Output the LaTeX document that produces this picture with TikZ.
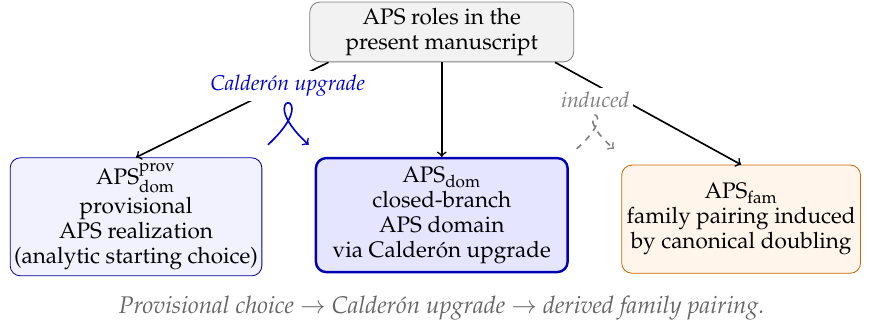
\documentclass[tikz,border=0pt]{standalone}
\usepackage[T1]{fontenc}
\usepackage{mathpazo}
\usetikzlibrary{arrows}

\begin{document}
\begin{tikzpicture}[
    box/.style={draw, rounded corners=5pt, align=center, inner xsep=1pt, inner ysep=3pt,
      font=\fontsize{11}{12.2}\selectfont},
    link/.style={->, thick, black},
    tag/.style={font=\fontsize{10.5}{12}\selectfont\itshape, fill=white, inner sep=2pt}
  ]
  \useasboundingbox (0,0) rectangle (14.95,-5.69);

  % the four boxes
  \node[box, draw=gray, fill=gray!10, minimum width=4.54cm, minimum height=1.03cm]
    (roles) at (7.60,-0.55) {APS roles in the\\present manuscript};
  \node[box, draw=blue!60!black, fill=blue!5, minimum width=4.33cm, minimum height=2.03cm]
    (prov) at (2.34,-3.73) {APS$^{\mathrm{prov}}_{\mathrm{dom}}$\\[2pt]provisional\\APS realization\\(analytic starting choice)};
  \node[box, very thick, draw=blue!70!black, fill=blue!10, minimum width=4.33cm, minimum height=1.96cm]
    (dom) at (7.60,-3.70) {APS$_{\mathrm{dom}}$\\closed-branch\\APS domain\\via Calder\'on upgrade};
  \node[box, draw=orange!80!black, fill=orange!8, minimum width=4.11cm, minimum height=1.86cm]
    (fam) at (12.75,-3.77) {APS$_{\mathrm{fam}}$\\family pairing induced\\by canonical doubling};

  % arrows out of the top box
  \draw[link] (roles.195) -- (prov.north);
  \draw[link] (roles.south) -- (dom.north);
  \draw[link] (roles.345) -- (fam.north);

  \node[tag, text=blue!80!black] (upg) at (4.95,-1.48) {Calder\'on upgrade};
  \node[tag, text=gray] (ind) at (10.24,-1.72) {induced};

  % little curls under the labels
  \coordinate (ua) at (4.61,-2.49);
  \coordinate (ub) at (5.31,-2.49);
  \draw[->, thick, blue!80!black] (ua) .. controls (5.65,-1.53) and (4.27,-1.53) .. (ub);
  \coordinate (ia) at (9.92,-2.56);
  \coordinate (ib) at (10.56,-2.56);
  \draw[->, thick, dashed, gray] (ia) .. controls (10.80,-1.79) and (9.68,-1.79) .. (ib);

  \node[font=\fontsize{11.8}{14}\selectfont\itshape, text=black!60] (cap) at (7.60,-5.30)
    {Provisional choice $\to$ Calder\'on upgrade $\to$ derived family pairing.};
\end{tikzpicture}
\end{document}
